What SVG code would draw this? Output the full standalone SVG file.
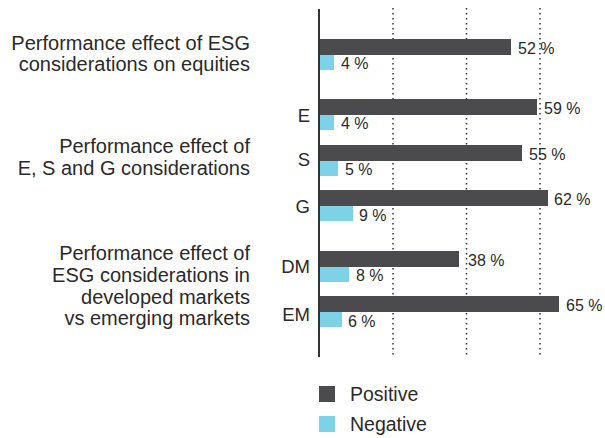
<svg xmlns="http://www.w3.org/2000/svg" width="605" height="438" viewBox="0 0 605 438">
<style>
text{font-family:"Liberation Sans",Arial,sans-serif;fill:#2a2a2a}
.lbl{font-size:20px;text-anchor:end}
.cat{font-size:18.5px;text-anchor:end}
.val{font-size:16px}
.leg{font-size:19.5px}
.pos{fill:#4b4b4d}
.neg{fill:#7dd2e8}
.grid{stroke:#333;stroke-width:1.5;stroke-dasharray:1.5 3.5;fill:none}
.axis{stroke:#333;stroke-width:2;fill:none}
</style>
<rect width="605" height="438" fill="#fff"/>
<g id="gridlines">
<line class="grid" x1="393" y1="8" x2="393" y2="358"/>
<line class="grid" x1="466.5" y1="8" x2="466.5" y2="358"/>
<line class="grid" x1="540" y1="8" x2="540" y2="358"/>
</g>
<g id="group-labels">
<text class="lbl" x="250" y="50">Performance effect of ESG</text>
<text class="lbl" x="250" y="71">considerations on equities</text>
<text class="lbl" x="250" y="153">Performance effect of</text>
<text class="lbl" x="250" y="175">E, S and G considerations</text>
<text class="lbl" x="250" y="260">Performance effect of</text>
<text class="lbl" x="250" y="282">ESG considerations in</text>
<text class="lbl" x="250" y="303.5">developed markets</text>
<text class="lbl" x="250" y="325">vs emerging markets</text>
</g>
<g id="row-esg">
<rect class="pos" x="319" y="39" width="192" height="16"/>
<rect class="neg" x="319" y="55" width="15" height="15"/>
<text class="val" x="518" y="53.5">52 %</text>
<text class="val" x="341" y="69">4 %</text>
</g>
<g id="row-e">
<text class="cat" x="310" y="122">E</text>
<rect class="pos" x="319" y="99" width="218" height="16"/>
<rect class="neg" x="319" y="115" width="15" height="15"/>
<text class="val" x="544" y="113.5">59 %</text>
<text class="val" x="341" y="129">4 %</text>
</g>
<g id="row-s">
<text class="cat" x="310" y="166">S</text>
<rect class="pos" x="319" y="145" width="203" height="16"/>
<rect class="neg" x="319" y="161" width="19" height="15"/>
<text class="val" x="529" y="159.5">55 %</text>
<text class="val" x="345" y="175">5 %</text>
</g>
<g id="row-g">
<text class="cat" x="310" y="213">G</text>
<rect class="pos" x="319" y="190" width="229" height="16"/>
<rect class="neg" x="319" y="206" width="34" height="15"/>
<text class="val" x="554" y="205">62 %</text>
<text class="val" x="359" y="220.5">9 %</text>
</g>
<g id="row-dm">
<text class="cat" x="310" y="273">DM</text>
<rect class="pos" x="319" y="251" width="140" height="16"/>
<rect class="neg" x="319" y="267" width="30" height="15"/>
<text class="val" x="468" y="265.5">38 %</text>
<text class="val" x="356" y="281">8 %</text>
</g>
<g id="row-em">
<text class="cat" x="310" y="321">EM</text>
<rect class="pos" x="319" y="296" width="240" height="16"/>
<rect class="neg" x="319" y="312" width="23" height="15"/>
<text class="val" x="566" y="310.5">65 %</text>
<text class="val" x="348" y="326.5">6 %</text>
</g>
<g id="axis">
<line class="axis" x1="319" y1="9" x2="319" y2="357"/>
</g>
<g id="legend">
<rect class="pos" x="319" y="386" width="16" height="16"/>
<text class="leg" x="350" y="400.5">Positive</text>
<rect class="neg" x="319" y="416" width="16" height="16"/>
<text class="leg" x="350" y="431">Negative</text>
</g>
</svg>
